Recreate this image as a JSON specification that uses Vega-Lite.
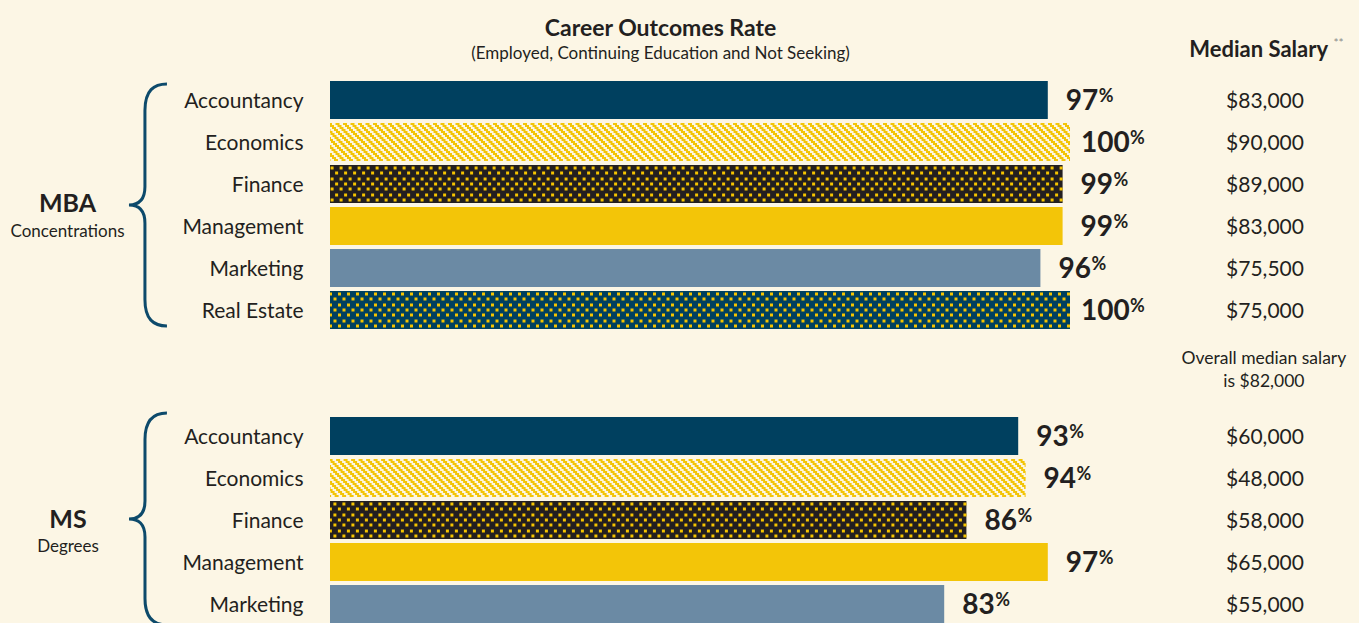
{
  "$schema": "https://vega.github.io/schema/vega-lite/v6.json",
  "width": 1029,
  "height": 546,
  "autosize": {"type": "none"},
  "padding": {"left": 330, "top": 79, "right": 0, "bottom": 0},
  "background": "#fcf6e5",
  "config": {
    "view": {"stroke": null},
    "font": "Lato",
    "rule": {"color": "#f3c508", "strokeWidth": 2, "strokeDash": [4, 3.5]}
  },
  "title": {
    "text": "Career Outcomes Rate",
    "subtitle": "(Employed, Continuing Education and Not Seeking)",
    "anchor": "middle",
    "dx": -184,
    "dy": 43,
    "offset": 18,
    "font": "Lato",
    "fontSize": 23,
    "fontWeight": "bold",
    "color": "#231f20",
    "subtitleFont": "Lato",
    "subtitleFontSize": 17,
    "subtitleColor": "#231f20",
    "subtitlePadding": 5
  },
  "data": {
    "values": [
      {"key": "MBA|Accountancy", "group": "MBA", "program": "Accountancy", "pct": 97, "salary": 83000},
      {"key": "MBA|Economics", "group": "MBA", "program": "Economics", "pct": 100, "salary": 90000},
      {"key": "MBA|Finance", "group": "MBA", "program": "Finance", "pct": 99, "salary": 89000},
      {"key": "MBA|Management", "group": "MBA", "program": "Management", "pct": 99, "salary": 83000},
      {"key": "MBA|Marketing", "group": "MBA", "program": "Marketing", "pct": 96, "salary": 75500},
      {"key": "MBA|Real Estate", "group": "MBA", "program": "Real Estate", "pct": 100, "salary": 75000},
      {"key": "MS|Accountancy", "group": "MS", "program": "Accountancy", "pct": 93, "salary": 60000},
      {"key": "MS|Economics", "group": "MS", "program": "Economics", "pct": 94, "salary": 48000},
      {"key": "MS|Finance", "group": "MS", "program": "Finance", "pct": 86, "salary": 58000},
      {"key": "MS|Management", "group": "MS", "program": "Management", "pct": 97, "salary": 65000},
      {"key": "MS|Marketing", "group": "MS", "program": "Marketing", "pct": 83, "salary": 55000}
    ]
  },
  "layer": [
    {
      "mark": {"type": "bar"},
      "encoding": {
        "y": {
          "field": "key", "type": "nominal",
          "scale": {
            "domain": ["MBA|Accountancy", "MBA|Economics", "MBA|Finance", "MBA|Management", "MBA|Marketing", "MBA|Real Estate", "gap1", "gap2", "MS|Accountancy", "MS|Economics", "MS|Finance", "MS|Management", "MS|Marketing"],
            "paddingInner": 0.0952,
            "paddingOuter": 0.0476
          },
          "axis": {
            "title": null, "domain": false, "ticks": false, "labelPadding": 27, "labelOffset": 2,
            "labelFont": "Lato", "labelFontSize": 21, "labelColor": "#231f20",
            "labelExpr": "indexof(datum.label, '|') >= 0 ? split(datum.label, '|')[1] : ''"
          }
        },
        "x": {"field": "pct", "type": "quantitative", "scale": {"domain": [0, 139.054], "nice": false, "zero": false}, "axis": null},
        "x2": {"datum": 0},
        "color": {
          "field": "program", "type": "nominal", "legend": null,
          "scale": {
            "domain": ["Accountancy", "Economics", "Finance", "Management", "Marketing", "Real Estate"],
            "range": ["#00405f", "#fcf6e5", "#231f20", "#f3c508", "#6b8aa4", "#00405f"]
          }
        }
      }
    },
    {
      "transform": [{"filter": "datum.program === 'Economics'"}],
      "encoding": {
        "y": {"field": "key", "type": "nominal"},
        "x": {"field": "pct", "type": "quantitative"},
        "x2": {"datum": 0}
      },
      "layer": [
        {"mark": {"type": "rule", "yOffset": -18, "strokeDashOffset": -18}, "encoding": {}},
        {"mark": {"type": "rule", "yOffset": -16, "strokeDashOffset": -16}, "encoding": {}},
        {"mark": {"type": "rule", "yOffset": -14, "strokeDashOffset": -14}, "encoding": {}},
        {"mark": {"type": "rule", "yOffset": -12, "strokeDashOffset": -12}, "encoding": {}},
        {"mark": {"type": "rule", "yOffset": -10, "strokeDashOffset": -10}, "encoding": {}},
        {"mark": {"type": "rule", "yOffset": -8, "strokeDashOffset": -8}, "encoding": {}},
        {"mark": {"type": "rule", "yOffset": -6, "strokeDashOffset": -6}, "encoding": {}},
        {"mark": {"type": "rule", "yOffset": -4, "strokeDashOffset": -4}, "encoding": {}},
        {"mark": {"type": "rule", "yOffset": -2, "strokeDashOffset": -2}, "encoding": {}},
        {"mark": {"type": "rule", "yOffset": 0, "strokeDashOffset": 0}, "encoding": {}},
        {"mark": {"type": "rule", "yOffset": 2, "strokeDashOffset": 2}, "encoding": {}},
        {"mark": {"type": "rule", "yOffset": 4, "strokeDashOffset": 4}, "encoding": {}},
        {"mark": {"type": "rule", "yOffset": 6, "strokeDashOffset": 6}, "encoding": {}},
        {"mark": {"type": "rule", "yOffset": 8, "strokeDashOffset": 8}, "encoding": {}},
        {"mark": {"type": "rule", "yOffset": 10, "strokeDashOffset": 10}, "encoding": {}},
        {"mark": {"type": "rule", "yOffset": 12, "strokeDashOffset": 12}, "encoding": {}},
        {"mark": {"type": "rule", "yOffset": 14, "strokeDashOffset": 14}, "encoding": {}},
        {"mark": {"type": "rule", "yOffset": 16, "strokeDashOffset": 16}, "encoding": {}},
        {"mark": {"type": "rule", "yOffset": 18, "strokeDashOffset": 18}, "encoding": {}}
      ]
    },
    {
      "transform": [{"filter": "datum.program === 'Finance' || datum.program === 'Real Estate'"}],
      "encoding": {
        "y": {"field": "key", "type": "nominal"},
        "x": {"field": "pct", "type": "quantitative"},
        "x2": {"datum": 0}
      },
      "layer": [
        {"mark": {"type": "rule", "yOffset": -16, "strokeWidth": 3, "strokeDash": [3, 6], "strokeDashOffset": 0, "color": "#f5c400"}, "encoding": {}},
        {"mark": {"type": "rule", "yOffset": -11, "strokeWidth": 3, "strokeDash": [3, 6], "strokeDashOffset": 4.5, "color": "#f5c400"}, "encoding": {}},
        {"mark": {"type": "rule", "yOffset": -5, "strokeWidth": 3, "strokeDash": [3, 6], "strokeDashOffset": 0, "color": "#f5c400"}, "encoding": {}},
        {"mark": {"type": "rule", "yOffset": 0, "strokeWidth": 3, "strokeDash": [3, 6], "strokeDashOffset": 4.5, "color": "#f5c400"}, "encoding": {}},
        {"mark": {"type": "rule", "yOffset": 5, "strokeWidth": 3, "strokeDash": [3, 6], "strokeDashOffset": 0, "color": "#f5c400"}, "encoding": {}},
        {"mark": {"type": "rule", "yOffset": 11, "strokeWidth": 3, "strokeDash": [3, 6], "strokeDashOffset": 4.5, "color": "#f5c400"}, "encoding": {}},
        {"mark": {"type": "rule", "yOffset": 16, "strokeWidth": 3, "strokeDash": [3, 6], "strokeDashOffset": 0, "color": "#f5c400"}, "encoding": {}}
      ]
    },
    {
      "transform": [{"filter": "datum.pct < 100"}],
      "mark": {"type": "text", "align": "left", "baseline": "middle", "dx": 18, "dy": 2, "font": "Lato", "fontSize": 28, "fontWeight": "bold", "color": "#231f20"},
      "encoding": {
        "y": {"field": "key", "type": "nominal"},
        "x": {"field": "pct", "type": "quantitative"},
        "text": {"field": "pct", "type": "quantitative"}
      }
    },
    {
      "transform": [{"filter": "datum.pct >= 100"}],
      "mark": {"type": "text", "align": "left", "baseline": "middle", "dx": 11, "dy": 2, "font": "Lato", "fontSize": 28, "fontWeight": "bold", "color": "#231f20"},
      "encoding": {
        "y": {"field": "key", "type": "nominal"},
        "x": {"field": "pct", "type": "quantitative"},
        "text": {"field": "pct", "type": "quantitative"}
      }
    },
    {
      "transform": [{"filter": "datum.pct < 100"}],
      "mark": {"type": "text", "align": "left", "baseline": "middle", "dx": 51, "dy": -3, "font": "Lato", "fontSize": 18, "fontWeight": "bold", "color": "#231f20"},
      "encoding": {
        "y": {"field": "key", "type": "nominal"},
        "x": {"field": "pct", "type": "quantitative"},
        "text": {"value": "%"}
      }
    },
    {
      "transform": [{"filter": "datum.pct >= 100"}],
      "mark": {"type": "text", "align": "left", "baseline": "middle", "dx": 60, "dy": -3, "font": "Lato", "fontSize": 18, "fontWeight": "bold", "color": "#231f20"},
      "encoding": {
        "y": {"field": "key", "type": "nominal"},
        "x": {"field": "pct", "type": "quantitative"},
        "text": {"value": "%"}
      }
    },
    {
      "mark": {"type": "text", "align": "center", "baseline": "middle", "dy": 2, "font": "Lato", "fontSize": 21, "color": "#231f20"},
      "encoding": {
        "y": {"field": "key", "type": "nominal"},
        "x": {"datum": 126.35, "type": "quantitative"},
        "text": {"field": "salary", "type": "quantitative", "format": "$,"}
      }
    },
    {
      "data": {"values": [{}]},
      "layer": [
        {
          "mark": {"type": "text", "align": "center", "baseline": "middle", "dy": -50, "font": "Lato", "fontSize": 22, "fontWeight": "bold", "color": "#231f20"},
          "encoding": {
            "y": {"datum": "MBA|Accountancy", "type": "nominal"},
            "x": {"datum": 125.5, "type": "quantitative"},
            "text": {"value": "Median Salary"}
          }
        },
        {
          "mark": {"type": "text", "align": "left", "baseline": "middle", "dy": -57, "font": "Lato", "fontSize": 12, "color": "#8a8a8a"},
          "encoding": {
            "y": {"datum": "MBA|Accountancy", "type": "nominal"},
            "x": {"datum": 135.6, "type": "quantitative"},
            "text": {"value": "**"}
          }
        },
        {
          "mark": {"type": "text", "align": "center", "baseline": "middle", "dy": 7, "lineHeight": 23, "font": "Lato", "fontSize": 17.5, "color": "#231f20"},
          "encoding": {
            "y": {"datum": "gap1", "type": "nominal"},
            "x": {"datum": 126.2, "type": "quantitative"},
            "text": {"value": ["Overall median salary", "is $82,000"]}
          }
        },
        {
          "mark": {"type": "text", "align": "center", "baseline": "middle", "dy": 20, "font": "Lato", "fontSize": 25, "fontWeight": "bold", "color": "#231f20"},
          "encoding": {
            "y": {"datum": "MBA|Finance", "type": "nominal"},
            "x": {"datum": -35.47, "type": "quantitative"},
            "text": {"value": "MBA"}
          }
        },
        {
          "mark": {"type": "text", "align": "center", "baseline": "middle", "dy": 48, "font": "Lato", "fontSize": 17, "color": "#231f20"},
          "encoding": {
            "y": {"datum": "MBA|Finance", "type": "nominal"},
            "x": {"datum": -35.47, "type": "quantitative"},
            "text": {"value": "Concentrations"}
          }
        },
        {
          "mark": {"type": "text", "align": "center", "baseline": "middle", "dy": 0, "font": "Lato", "fontSize": 25, "fontWeight": "bold", "color": "#231f20"},
          "encoding": {
            "y": {"datum": "MS|Finance", "type": "nominal"},
            "x": {"datum": -35.4, "type": "quantitative"},
            "text": {"value": "MS"}
          }
        },
        {
          "mark": {"type": "text", "align": "center", "baseline": "middle", "dy": 27, "font": "Lato", "fontSize": 17, "color": "#231f20"},
          "encoding": {
            "y": {"datum": "MS|Finance", "type": "nominal"},
            "x": {"datum": -35.4, "type": "quantitative"},
            "text": {"value": "Degrees"}
          }
        },
        {
          "mark": {
            "type": "point", "filled": false, "opacity": 1, "strokeWidth": 3, "color": "#0d4a6b", "yOffset": 21, "size": 58564,
            "shape": "M0.157,-1 C0.05,-1 -0.025,-0.95 -0.025,-0.78 L-0.025,-0.15 C-0.025,-0.04 -0.08,0 -0.157,0 C-0.08,0 -0.025,0.04 -0.025,0.15 L-0.025,0.78 C-0.025,0.95 0.05,1 0.157,1"
          },
          "encoding": {
            "y": {"datum": "MBA|Finance", "type": "nominal"},
            "x": {"datum": -24.6, "type": "quantitative"}
          }
        },
        {
          "mark": {
            "type": "point", "filled": false, "opacity": 1, "strokeWidth": 3, "color": "#0d4a6b", "yOffset": -1, "size": 44944,
            "shape": "M0.179,-1 C0.057,-1 -0.028,-0.94 -0.028,-0.75 L-0.028,-0.17 C-0.028,-0.045 -0.09,0 -0.179,0 C-0.09,0 -0.028,0.045 -0.028,0.17 L-0.028,0.75 C-0.028,0.94 0.057,1 0.179,1"
          },
          "encoding": {
            "y": {"datum": "MS|Finance", "type": "nominal"},
            "x": {"datum": -24.6, "type": "quantitative"}
          }
        }
      ]
    }
  ]
}
